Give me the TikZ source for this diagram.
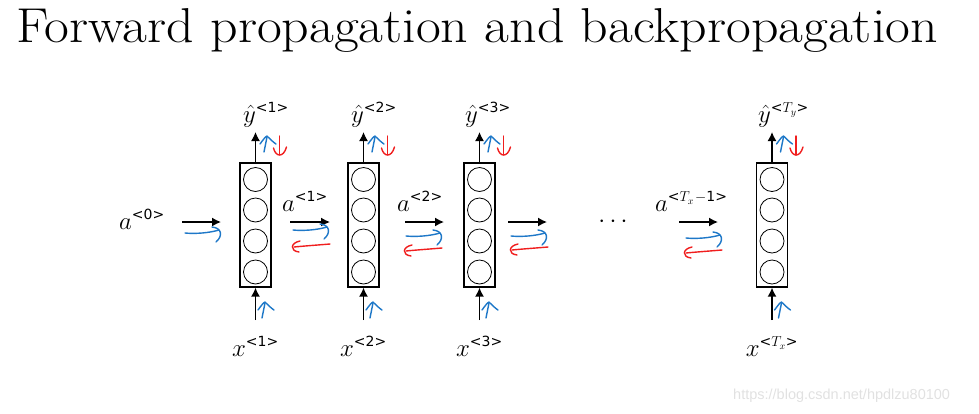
\documentclass[tikz,border=0pt]{standalone}
\usepackage{fontspec}
\newfontfamily\wmfont{Liberation Sans}
\newfontfamily\supfont{DejaVu Sans}
\usetikzlibrary{arrows.meta}
\definecolor{hblue}{RGB}{30,120,200}
\definecolor{hred}{RGB}{240,30,30}
\definecolor{wmgray}{RGB}{225,225,225}
\newcommand\ssp[1]{^{\mbox{\fontsize{14}{14}\selectfont\supfont #1}}}
\tikzset{
  cell/.style={draw, line width=1.3pt, minimum width=31pt, minimum height=124pt, inner sep=0pt},
  neuron/.style={draw, line width=0.8pt, circle, minimum size=24pt, inner sep=0pt},
  blk/.style={line width=1.4pt, -{Latex[length=9pt,width=9pt]}},
  hb/.style={hblue, line width=1.4pt, line cap=round, line join=round},
  hr/.style={hred, line width=1.4pt, line cap=round, line join=round},
  lab/.style={font=\fontsize{27}{30}\selectfont, inner sep=0pt},
  blueR/.pic={\draw[hb] (0,0) .. controls (10,1) and (24,0) .. (34,-3);
              \draw[hb] (27,-6) .. controls (37,-5) and (38,3) .. (31,9);},
  redL/.pic={\draw[hr] (0,0) .. controls (-12,1) and (-26,2) .. (-36,3);
             \draw[hr] (-30,-3) .. controls (-40,-1) and (-40,7) .. (-31,8);},
  blueUp/.pic={\draw[hb] (0,0) -- (3,-15);
               \draw[hb] (-4,-8) .. controls (-1,-12) and (1,-15) .. (3,-16) .. controls (6,-13) and (9,-10) .. (12,-8);},
  redDown/.pic={\draw[hr] (0,0) -- (0,19);
                \draw[hr] (-6,12) .. controls (-4,21) and (4,22) .. (7,11);}
}
\begin{document}
\begin{tikzpicture}[x=1pt,y=-1pt]
\useasboundingbox (0,0) rectangle (979,413);
\node[anchor=base west, inner sep=0pt, font=\fontsize{49}{52}\selectfont] (title) at (16,42) {\scalebox{1.1}[1]{Forward propagation and backpropagation}};

% cells
\foreach \n/\x in {1/255.5,2/363.5,3/479.5,4/772}{
  \node[cell] (c\n) at (\x,225) {};
  \foreach \k/\yy in {1/179.5,2/210,3/241,4/272}{
    \node[neuron] (c\n n\k) at (\x,\yy) {};
  }
  \coordinate (top\n) at (\x,132);
  \coordinate (bot\n) at (\x,320);
  \draw[blk] (c\n.north) -- (top\n);
  \draw[blk] (bot\n) -- (c\n.south);
  \pic at ([xshift=6.5pt,yshift=2pt]bot\n) {blueUp};
  \pic at ([xshift=8.5pt,yshift=-20pt]top\n) {blueUp};
  \pic at ([xshift=24pt,yshift=-4pt]top\n) {redDown};
}

% output labels
\node[lab, anchor=base west] (y1) at (243,122) {$\hat{y}\ssp{<1>}$};
\node[lab, anchor=base west] (y2) at (351,122) {$\hat{y}\ssp{<2>}$};
\node[lab, anchor=base west] (y3) at (465,122) {$\hat{y}\ssp{<3>}$};
\node[lab, anchor=base west] (y4) at (758,122) {$\hat{y}\ssp{<$T_y$>}$};

% input labels
\node[lab, anchor=base] (x1) at (255.5,356) {$x\ssp{<1>}$};
\node[lab, anchor=base] (x2) at (363.5,356) {$x\ssp{<2>}$};
\node[lab, anchor=base] (x3) at (479.5,356) {$x\ssp{<3>}$};
\node[lab, anchor=base] (x4) at (772,356) {$x\ssp{<$T_x$>}$};

% activation labels
\node[lab, anchor=base west] (a0) at (119,229) {$a\ssp{<0>}$};
\node[lab, anchor=base west] (a1) at (282,211) {$a\ssp{<1>}$};
\node[lab, anchor=base west] (a2) at (397,211) {$a\ssp{<2>}$};
\node[lab, anchor=base west] (a3) at (655,211) {$a\ssp{<$T_x$\kern1pt$-$1>}$};
\node[lab] (dots) at (613,222) {$\cdots$};

% horizontal black arrows
\coordinate (s0) at (182,222); \coordinate (e0) at (221,222);
\draw[blk] (s0) -- (e0);
\coordinate (s1) at (290,222); \coordinate (e1) at (330,222);
\draw[blk] (s1) -- (e1);
\coordinate (s2) at (405,222); \coordinate (e2) at (444,222);
\draw[blk] (s2) -- (e2);
\coordinate (s3) at (508,222); \coordinate (e3) at (547,222);
\draw[blk] (s3) -- (e3);
\coordinate (s4) at (679,222); \coordinate (e4) at (718,222);
\draw[blk] (s4) -- (e4);

% hand-drawn forward / backward arrows
\pic at (185,233) {blueR};
\pic at (293,230) {blueR};
\pic at (406,236) {blueR};
\pic at (511,236) {blueR};
\pic at (686,238) {blueR};
\pic at (330,244) {redL};
\pic at (442,248) {redL};
\pic at (548,247) {redL};
\pic at (722,250) {redL};

% watermark
\node[anchor=base west, inner sep=0pt, text=wmgray, font=\wmfont\fontsize{14.5}{16}\selectfont] (wm) at (733,399) {https://blog.csdn.net/hpdlzu80100};
\end{tikzpicture}
\end{document}
